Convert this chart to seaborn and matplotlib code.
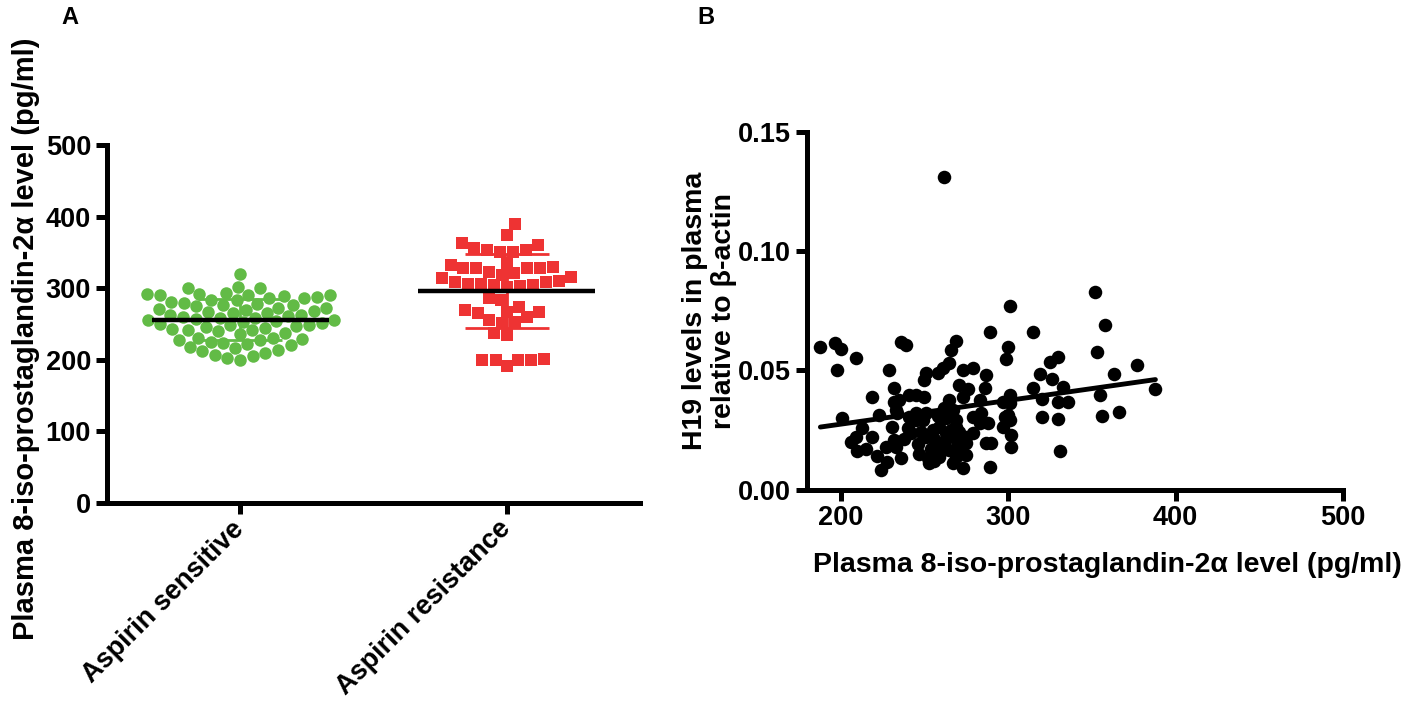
import numpy as np
import pandas as pd
import matplotlib
matplotlib.use("Agg")
import matplotlib.pyplot as plt
import seaborn as sns

# ---------------- data ----------------
groups = ["Aspirin sensitive", "Aspirin resistance"]

sensitive = [320, 301, 300, 300, 293, 292, 292, 291, 291, 290, 289, 288, 287, 286,
             284, 283, 281, 280, 278, 277, 276, 275, 273, 272, 271, 270, 268, 267,
             266, 265, 263, 262, 261, 260, 259, 258, 257, 256, 255, 254, 253, 251,
             250, 249, 248, 247, 246, 245, 243, 242, 241, 240, 238, 236, 231, 230,
             229, 228, 227, 225, 224, 222, 220, 218, 216, 214, 212, 210, 207, 205,
             202, 200]

resistance = [389, 375, 363, 361, 356, 353, 350, 351, 354,
              333, 328, 328, 328, 328, 330, 335, 323, 318, 314, 316, 321, 309,
              310, 308, 306, 306, 305, 304, 303, 302,
              283, 286, 260, 265, 253, 270, 267, 267, 274, 256, 251, 237, 235,
              200, 200, 191, 200, 200, 201]

iso_level = [188, 197, 200, 209, 198, 236, 239, 229, 262, 289, 301, 352, 358, 315, 300,
             299, 353, 330, 325, 377, 363, 319, 326, 315, 333, 301, 388, 355, 320, 330,
             336, 301, 366, 356, 320, 330, 300, 301, 297, 302, 302, 331, 219, 201, 209,
             210, 219, 223, 224, 228, 232, 235, 233, 231, 232, 233, 236, 241, 245, 250,
             251, 250, 241, 245, 251, 252, 261, 265, 266, 269, 273, 279, 287, 286, 283,
             273, 265, 267, 269, 263, 265, 267, 273, 269, 275, 279, 283, 287, 289, 290,
             206, 232, 234, 245, 249, 242, 251, 259, 257, 259, 263, 265, 269, 270, 275,
             275, 279, 288, 297, 298, 258, 255, 261, 254, 247, 262, 258, 271, 276, 215,
             222, 240, 256, 271, 284, 246, 253, 260, 266, 256, 248, 272, 238, 213, 227]

h19_level = [0.060, 0.0615, 0.059, 0.055, 0.050, 0.0617, 0.0605, 0.050, 0.131, 0.066,
             0.077, 0.083, 0.069, 0.066, 0.060, 0.0547, 0.0575, 0.0555, 0.0533, 0.0523,
             0.0484, 0.0484, 0.0463, 0.0425, 0.0428, 0.0397, 0.0422, 0.0397, 0.0379, 0.0369,
             0.0369, 0.0362, 0.0327, 0.0309, 0.0306, 0.0295, 0.0313, 0.029, 0.0264, 0.0229,
             0.018, 0.0163, 0.039, 0.030, 0.0222, 0.016, 0.022, 0.0313, 0.0082, 0.0117,
             0.0425, 0.0376, 0.0334, 0.0264, 0.0208, 0.018, 0.0131, 0.0397, 0.0397, 0.039,
             0.0488, 0.046, 0.0306, 0.0292, 0.032, 0.0131, 0.0509, 0.053, 0.0586, 0.0621,
             0.0502, 0.0509, 0.0481, 0.0425, 0.0376, 0.039, 0.0376, 0.0334, 0.0292, 0.0236,
             0.0166, 0.011, 0.0089, 0.0138, 0.0194, 0.0236, 0.0278, 0.0194, 0.0096, 0.0194,
             0.020, 0.0369, 0.032, 0.032, 0.0292, 0.0236, 0.0222, 0.0264, 0.018, 0.0138,
             0.030, 0.0222, 0.0264, 0.0194, 0.0222, 0.0145, 0.0306, 0.0278, 0.0369, 0.0306,
             0.0488, 0.025, 0.020, 0.017, 0.015, 0.034, 0.031, 0.044, 0.042, 0.017,
             0.014, 0.026, 0.012, 0.024, 0.032, 0.019, 0.011, 0.016, 0.025, 0.021,
             0.024, 0.017, 0.021, 0.026, 0.018]

y_ticks_a = [0, 100, 200, 300, 400, 500]
x_ticks_b = [200, 300, 400, 500]
y_ticks_b = [0.00, 0.05, 0.10, 0.15]

GREEN = "#62BB46"
RED = "#EE3333"

# ---------------- style ----------------
sns.set_theme(style="ticks")
plt.rcParams["font.family"] = ["Liberation Sans", "DejaVu Sans"]
plt.rcParams["font.weight"] = "bold"
plt.rcParams["axes.labelweight"] = "bold"
plt.rcParams["text.color"] = "black"
plt.rcParams["axes.labelcolor"] = "black"

W, H = 1418, 708
fig = plt.figure(figsize=(W / 100, H / 100), dpi=100)
axA = fig.add_axes([107 / W, 1 - 503 / H, 533 / W, 358 / H])
axB = fig.add_axes([807 / W, 1 - 489.5 / H, 536 / W, 357.5 / H])

SPINE_LW = 3.6
for ax in (axA, axB):
    for s in ("top", "right"):
        ax.spines[s].set_visible(False)
    for s in ("left", "bottom"):
        ax.spines[s].set_linewidth(SPINE_LW)
        ax.spines[s].set_color("black")
    ax.tick_params(axis="both", direction="out", length=8, width=SPINE_LW,
                   color="black", labelsize=19.5, labelcolor="black")

# ---------------- panel A ----------------
df_s = pd.DataFrame({"group": groups[0], "value": sensitive})
df_r = pd.DataFrame({"group": groups[1], "value": resistance})
sns.swarmplot(data=df_s, x="group", y="value", order=groups, color=GREEN,
              marker="o", size=9, linewidth=0, ax=axA, zorder=3)
sns.swarmplot(data=df_r, x="group", y="value", order=groups, color=RED,
              marker="s", size=9, linewidth=0, ax=axA, zorder=3)

for i, (vals, col) in enumerate([(sensitive, GREEN), (resistance, RED)]):
    m = np.mean(vals)
    sd = np.std(vals, ddof=1)
    axA.errorbar(i, m, yerr=sd, color=col, lw=2, capsize=30, capthick=2, zorder=4)
    axA.hlines(m, i - 0.333, i + 0.333, color="black", lw=3.2, zorder=5)

axA.set_xlim(-0.5, 1.5)
axA.set_ylim(0, 500)
axA.set_yticks(y_ticks_a)
axA.set_xlabel("")
axA.set_ylabel("Plasma 8-iso-prostaglandin-2α level (pg/ml)", fontsize=21,
               fontweight="bold", color="black")
axA.yaxis.set_label_coords(-0.126, 0.46)
axA.set_xticks([0, 1])
axA.set_xticklabels(groups, rotation=45, ha="right", va="center",
                    rotation_mode="anchor", fontsize=19.5, fontweight="bold")
axA.tick_params(axis="x", pad=8)

# ---------------- panel B ----------------
sns.regplot(x=iso_level, y=h19_level, ci=None, color="black", ax=axB,
            scatter_kws={"s": 95, "linewidths": 0, "alpha": 1, "clip_on": False},
            line_kws={"lw": 3.5})
axB.set_xlim(180, 500)
axB.set_ylim(0, 0.15)
axB.set_xticks(x_ticks_b)
axB.set_yticks(y_ticks_b)
axB.set_yticklabels([f"{v:.2f}" for v in y_ticks_b])
axB.set_xlabel("Plasma 8-iso-prostaglandin-2α level (pg/ml)", fontsize=20.5,
               fontweight="bold", color="black")
axB.xaxis.set_label_coords(0.56, -0.175)
axB.set_ylabel("H19 levels in plasma\nrelative to β-actin", fontsize=20.5,
               fontweight="bold", linespacing=1.15, color="black")
axB.yaxis.set_label_coords(-0.131, 0.5)

# panel letters
fig.text(70 / W, 1 - 18 / H, "A", ha="center", va="center", fontsize=17,
         fontweight="bold")
fig.text(706 / W, 1 - 18 / H, "B", ha="center", va="center", fontsize=17,
         fontweight="bold")

fig.savefig("out.png", dpi=100, facecolor="white")
